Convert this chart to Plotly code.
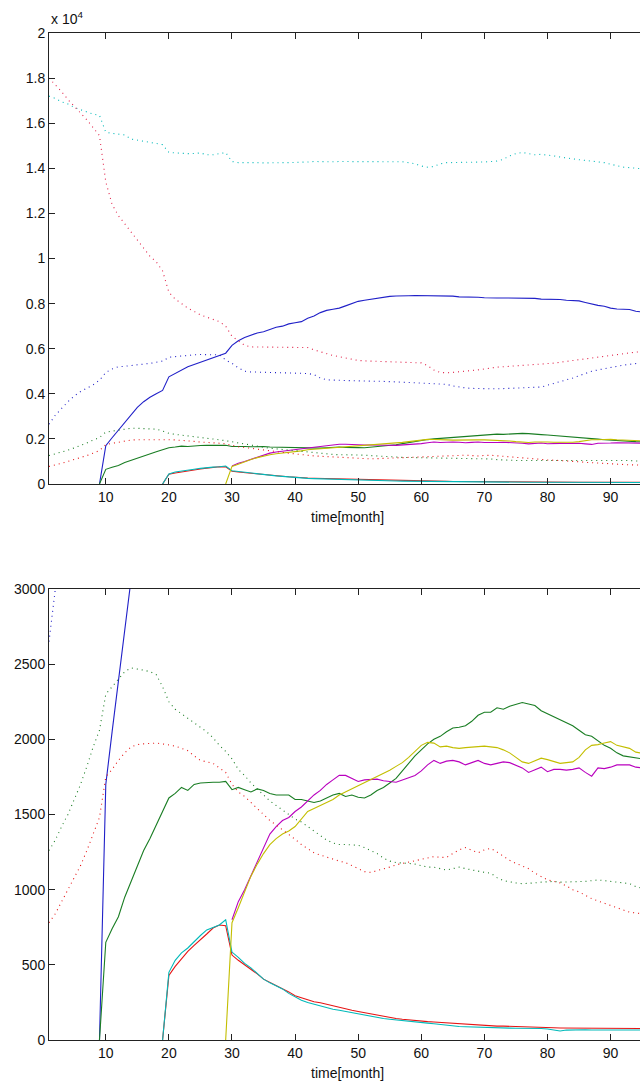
import plotly.graph_objects as go

# monthly time axis
months = list(range(1, 97))
_ = None

# solid series
blue_solid = [_]*8 + [
    0, 1700, 2050, 2400, 2750, 3100, 3400, 3650, 3850, 4000,
    4150, 4750, 4900, 5050, 5200, 5300, 5400, 5500, 5600, 5700,
    5800, 6150, 6350, 6500, 6600, 6700, 6750, 6850, 6950, 7000,
    7100, 7150, 7200, 7350, 7450, 7600, 7700, 7750, 7800, 7900,
    8000, 8100, 8150, 8200, 8250, 8300, 8320, 8340, 8360, 8350,
    8360, 8360, 8360, 8360, 8360, 8360, 8330, 8300, 8300, 8310,
    8280, 8260, 8270, 8250, 8250, 8250, 8250, 8250, 8250, 8230,
    8200, 8200, 8200, 8180, 8150, 8130, 8120, 8050, 7980, 7920,
    7880, 7800, 7760, 7740, 7740, 7660, 7630, 7600]

green_solid = [_]*8 + [
    0, 650, 740, 820, 950, 1050, 1160, 1260, 1340, 1430,
    1520, 1610, 1640, 1680, 1660, 1700, 1710, 1715, 1715, 1715,
    1720, 1665, 1680, 1665, 1650, 1670, 1660, 1640, 1630, 1630,
    1630, 1600, 1600, 1590, 1580, 1590, 1610, 1630, 1640, 1620,
    1630, 1615, 1610, 1630, 1660, 1680, 1710, 1740, 1790, 1840,
    1890, 1930, 1970, 2000, 2020, 2050, 2075, 2080, 2090, 2120,
    2160, 2180, 2180, 2210, 2200, 2220, 2230, 2245, 2235, 2225,
    2190, 2170, 2150, 2135, 2110, 2090, 2060, 2030, 2020, 1990,
    1960, 1940, 1910, 1890, 1885, 1880, 1870, 1860]

red_solid = [_]*18 + [
    0, 430, 490, 540, 590, 630, 665, 705, 745, 765,
    760, 565, 530, 500, 475, 440, 405, 385, 365, 345,
    320, 295, 280, 265, 255, 248, 237, 228, 220, 208,
    198, 190, 182, 172, 163, 156, 150, 143, 138, 133,
    128, 125, 122, 120, 117, 115, 113, 110, 108, 104,
    98, 95, 93, 92, 92, 90, 88, 87, 86, 85,
    84, 83, 81, 80, 80, 80, 80, 80, 80, 80,
    80, 80, 80, 79, 78, 77, 76, 76]

cyan_solid = [_]*18 + [
    0, 450, 530, 580, 612, 655, 695, 732, 750, 765,
    800, 585, 550, 510, 480, 440, 405, 380, 360, 340,
    310, 285, 265, 250, 238, 228, 215, 205, 198, 190,
    182, 175, 165, 157, 150, 143, 138, 133, 128, 124,
    120, 116, 112, 108, 103, 98, 93, 90, 88, 86,
    88, 86, 84, 82, 80, 79, 78, 78, 77, 77,
    76, 73, 65, 60, 66, 68, 68, 68, 67, 67,
    67, 66, 66, 66, 66, 66, 66, 66]

magenta_solid = [_]*29 + [
    800, 920, 1000, 1090, 1180, 1280, 1370, 1420, 1460, 1480,
    1520, 1550, 1590, 1630, 1660, 1700, 1730, 1760, 1760, 1740,
    1720, 1730, 1730, 1735, 1725, 1720, 1715, 1730, 1745, 1760,
    1790, 1830, 1860, 1840, 1855, 1860, 1850, 1830, 1845, 1860,
    1840, 1830, 1840, 1850, 1845, 1830, 1810, 1780, 1800, 1815,
    1785, 1800, 1800, 1795, 1800, 1810, 1780, 1755, 1810, 1805,
    1815, 1830, 1830, 1830, 1815, 1810, 1805]

yellow_solid = [_]*28 + [
    0, 780, 880, 990, 1090, 1170, 1240, 1300, 1340, 1370,
    1390, 1420, 1470, 1520, 1540, 1560, 1575, 1600, 1630, 1650,
    1670, 1690, 1710, 1730, 1750, 1770, 1795, 1820, 1845, 1880,
    1920, 1960, 1980, 1975, 1950, 1955, 1945, 1940, 1945, 1950,
    1955, 1955, 1950, 1945, 1930, 1910, 1880, 1850, 1840, 1860,
    1875, 1865, 1850, 1840, 1845, 1850, 1880, 1930, 1960, 1965,
    1975, 1985, 1960, 1950, 1940, 1915, 1905, 1900]

# dotted series
blue_dotted = [
    2650, 3050, 3350, 3650, 3900, 4100, 4250, 4400, 4600, 4950,
    5100, 5200, 5220, 5250, 5280, 5300, 5350, 5400, 5450, 5620,
    5650, 5700, 5730, 5730, 5740, 5740, 5740, 5730, 5500, 5350,
    5150, 5000, 4970, 4960, 4950, 4950, 4940, 4940, 4930, 4920,
    4910, 4900, 4850, 4700, 4620, 4600, 4590, 4590, 4580, 4580,
    4580, 4560, 4560, 4550, 4540, 4530, 4520, 4510, 4500, 4490,
    4480, 4470, 4460, 4420, 4350, 4300, 4260, 4240, 4230, 4220,
    4220, 4220, 4230, 4240, 4250, 4260, 4260, 4270, 4300, 4380,
    4450, 4550, 4620, 4700, 4800, 4900, 5000, 5060, 5120, 5180,
    5230, 5270, 5310, 5350, 5370, 5390]

green_dotted = [
    1260, 1330, 1420, 1500, 1600, 1700, 1820, 1950, 2060, 2300,
    2350, 2400, 2450, 2475, 2470, 2460, 2450, 2430, 2350, 2250,
    2200, 2170, 2140, 2110, 2080, 2050, 2010, 1960, 1920, 1870,
    1800, 1760, 1710, 1670, 1630, 1590, 1560, 1530, 1500, 1470,
    1450, 1420, 1390, 1360, 1330, 1310, 1300, 1300, 1300, 1295,
    1280, 1260, 1240, 1210, 1190, 1180, 1180, 1175, 1170, 1160,
    1150, 1150, 1140, 1130, 1140, 1150, 1140, 1130, 1120, 1115,
    1110, 1080, 1060, 1050, 1045, 1040, 1040, 1045, 1050, 1055,
    1055, 1050, 1050, 1050, 1050, 1055, 1060, 1065, 1060, 1055,
    1050, 1045, 1040, 1020, 1010, 1000]

red_dotted = [
    780, 840, 920, 1000, 1080, 1160, 1260, 1370, 1480, 1750,
    1800, 1860, 1910, 1950, 1965, 1970, 1975, 1975, 1970, 1965,
    1955, 1940, 1925, 1890, 1860, 1850, 1840, 1810, 1780, 1700,
    1650, 1620, 1580, 1540, 1500, 1460, 1430, 1400, 1365, 1335,
    1300, 1270, 1245, 1230, 1215, 1200, 1190, 1180, 1160, 1140,
    1120, 1115, 1125, 1135, 1150, 1165, 1175, 1180, 1190, 1205,
    1215, 1220, 1215, 1215, 1240, 1265, 1280, 1265, 1245, 1265,
    1275, 1250, 1220, 1195, 1175, 1160, 1140, 1110, 1085, 1065,
    1055, 1045, 1025, 1000, 985, 960, 940, 925, 910, 895,
    875, 860, 850, 845, 840, 835]

cyan_dotted = [
    17200, 17100, 16950, 16850, 16700, 16600, 16500, 16400, 16350, 15600,
    15550, 15520, 15480, 15300, 15250, 15200, 15150, 15100, 15050, 14700,
    14680, 14660, 14650, 14660, 14680, 14600, 14600, 14650, 14700, 14300,
    14250, 14250, 14260, 14250, 14240, 14250, 14270, 14250, 14250, 14250,
    14260, 14280, 14300, 14290, 14280, 14290, 14300, 14300, 14290, 14300,
    14310, 14300, 14290, 14300, 14310, 14300, 14290, 14250, 14200, 14100,
    14050, 14080, 14200, 14250, 14250, 14260, 14270, 14260, 14270, 14280,
    14300, 14320, 14400, 14550, 14650, 14700, 14650, 14600, 14620, 14600,
    14550, 14500, 14450, 14400, 14380, 14350, 14320, 14300, 14250, 14180,
    14100, 14050, 14030, 14000, 13980, 13950]

total_dotted = [
    18000, 17700, 17400, 17050, 16750, 16450, 16150, 15800, 15450, 13400,
    12400, 11900, 11550, 11200, 10850, 10450, 10100, 9850, 9450, 8500,
    8200, 8000, 7800, 7650, 7500, 7400, 7300, 7200, 7000, 6550,
    6350, 6150, 6080, 6080, 6080, 6080, 6080, 6080, 6080, 6080,
    6080, 6050, 5950, 5850, 5780, 5700, 5650, 5580, 5520, 5480,
    5460, 5450, 5440, 5430, 5420, 5410, 5400, 5390, 5380, 5370,
    5250, 5050, 4950, 4930, 4950, 4970, 5000, 5030, 5060, 5100,
    5150, 5180, 5200, 5220, 5240, 5260, 5270, 5280, 5290, 5320,
    5360, 5400, 5440, 5480, 5520, 5560, 5600, 5640, 5680, 5710,
    5740, 5780, 5820, 5850, 5870, 5890]

top_ticks = [0, 2000, 4000, 6000, 8000, 10000, 12000, 14000, 16000, 18000, 20000]
top_tick_text = ["0", "0.2", "0.4", "0.6", "0.8", "1", "1.2", "1.4", "1.6", "1.8", "2"]
bottom_ticks = [0, 500, 1000, 1500, 2000, 2500, 3000]
x_ticks = [10, 20, 30, 40, 50, 60, 70, 80, 90]

BLUE = "rgb(32,32,200)"
GREEN = "rgb(25,125,35)"
RED = "rgb(230,20,20)"
PINK = "rgb(225,30,70)"
CYAN = "rgb(0,185,185)"
MAGENTA = "rgb(185,0,190)"
YELLOW = "rgb(195,190,0)"

series = [
    (blue_solid, BLUE, "solid"),
    (green_solid, GREEN, "solid"),
    (red_solid, RED, "solid"),
    (cyan_solid, CYAN, "solid"),
    (magenta_solid, MAGENTA, "solid"),
    (yellow_solid, YELLOW, "solid"),
    (blue_dotted, BLUE, "dot"),
    (green_dotted, GREEN, "dot"),
    (red_dotted, RED, "dot"),
    (cyan_dotted, CYAN, "dot"),
    (total_dotted, PINK, "dot"),
]

fig = go.Figure()
for xa, ya in (("x", "y"), ("x2", "y2")):
    for values, color, style in series:
        n = len(values)
        line = dict(color=color, width=1.1)
        if style == "dot":
            line = dict(color=color, width=1.1, dash="1px,4px")
        fig.add_trace(go.Scatter(
            x=months[:n], y=values, mode="lines", line=line,
            xaxis=xa, yaxis=ya, showlegend=False, hoverinfo="skip",
            connectgaps=False))

W, H = 640, 1086
left = 49
font = dict(family="Liberation Sans, Arial, Helvetica, sans-serif", size=14, color="#111")

x_right = 1 + (W - left) / 6.31

def xaxis_cfg(anchor):
    return dict(range=[1, x_right], tickvals=x_ticks, ticks="inside", ticklen=6,
                tickcolor="#222", showline=True, linecolor="#222", linewidth=1,
                mirror="ticks", showgrid=False, zeroline=False, anchor=anchor,
                tickfont=font, automargin=False, domain=[0, 1])

def yaxis_cfg(anchor, rng, dom, tickvals, ticktext=None):
    d = dict(range=rng, tickvals=tickvals, ticks="inside", ticklen=6,
             tickcolor="#222", showline=True, linecolor="#222", linewidth=1,
             mirror=False, showgrid=False, zeroline=False, anchor=anchor,
             tickfont=font, automargin=False, domain=dom)
    if ticktext is not None:
        d["ticktext"] = ticktext
    return d

fig.update_layout(
    width=W, height=H,
    margin=dict(l=left, r=0, t=0, b=0),
    paper_bgcolor="white", plot_bgcolor="white",
    xaxis=xaxis_cfg("y"),
    yaxis=yaxis_cfg("x", [0, 20000], [1 - 484 / H, 1 - 33 / H], top_ticks, top_tick_text),
    xaxis2=xaxis_cfg("y2"),
    yaxis2=yaxis_cfg("x2", [0, 3000], [1 - 1040 / H, 1 - 589 / H], bottom_ticks),
    annotations=[
        dict(text="time[month]", xref="paper", yref="paper",
             x=(347 - left) / (W - left), y=1 - 517 / H, xanchor="center", yanchor="middle",
             showarrow=False, font=font),
        dict(text="time[month]", xref="paper", yref="paper",
             x=(347 - left) / (W - left), y=1 - 1073 / H, xanchor="center", yanchor="middle",
             showarrow=False, font=font),
        dict(text="x 10<sup>4</sup>", xref="paper", yref="paper",
             x=(49 - left) / (W - left), y=1 - 29 / H, xanchor="left", yanchor="bottom",
             showarrow=False, font=font),
    ],
)

fig.write_html("out.html")
